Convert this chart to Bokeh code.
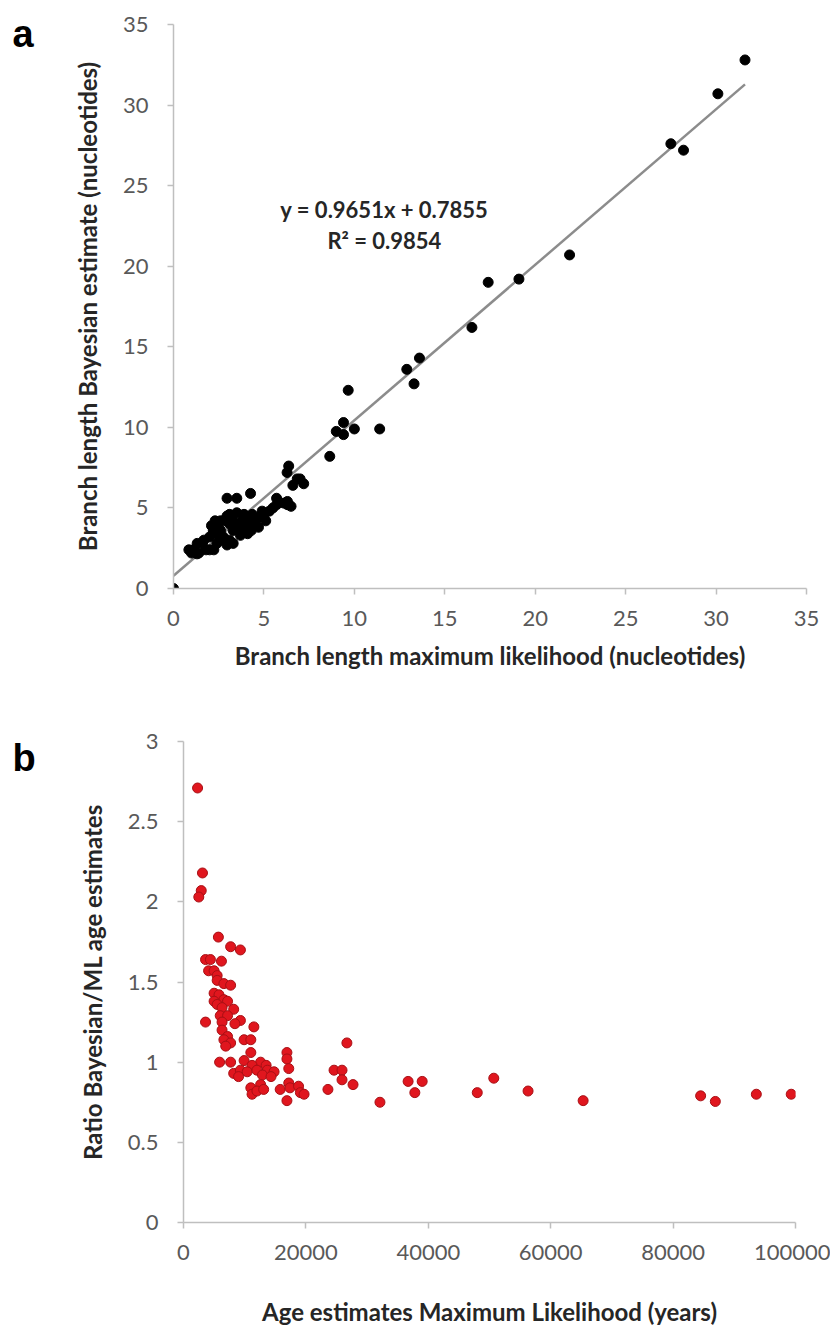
from bokeh.plotting import figure
from bokeh.layouts import column, row
from bokeh.models import Range1d, FixedTicker, Label, NumeralTickFormatter
from bokeh.embed import file_html
from bokeh.resources import INLINE

# ---------------- Panel a data ----------------
a_x = [0.0, 31.6, 30.1, 27.5, 28.2, 21.9, 19.1, 17.4, 16.5, 13.6, 12.9, 13.3,
       9.66, 9.4, 9.0, 9.4, 10.0, 11.4, 8.64, 7.2, 7.0, 6.37, 6.28, 6.84, 6.6,
       6.3, 5.7, 4.26, 3.5, 2.96,
       0.94, 0.85, 1.0, 1.3, 2.23, 1.31, 1.68, 2.0, 2.2, 2.4, 2.76, 2.96, 3.1,
       3.5, 3.9, 2.4, 2.76, 3.1, 3.3, 2.96, 2.6, 3.7, 4.1, 4.3, 4.7, 5.1, 4.9,
       5.3, 5.5, 5.7, 6.1, 6.3, 6.5, 4.5, 4.7, 4.3, 3.9, 3.5, 3.3, 3.7, 2.4,
       2.0, 1.8, 1.4, 1.1, 1.6, 2.6, 2.1, 2.3, 2.6, 3.1, 3.25, 3.8, 4.1, 4.35,
       5.0]
a_y = [0.0, 32.8, 30.7, 27.6, 27.2, 20.7, 19.2, 19.0, 16.2, 14.3, 13.6, 12.7,
       12.3, 10.3, 9.75, 9.55, 9.9, 9.9, 8.2, 6.5, 6.8, 7.6, 7.2, 6.8, 6.4,
       5.4, 5.6, 5.9, 5.6, 5.6,
       2.36, 2.4, 2.2, 2.15, 2.4, 2.8, 3.0, 3.2, 3.6, 3.9, 4.2, 4.5, 4.6,
       4.7, 4.6, 3.4, 3.2, 3.0, 2.8, 2.7, 3.0, 3.3, 3.4, 3.6, 3.8, 4.2, 4.8,
       4.8, 5.0, 5.2, 5.3, 5.2, 5.1, 4.2, 4.4, 4.0, 3.9, 4.0, 3.6, 3.7, 2.8,
       2.4, 2.4, 2.2, 2.4, 2.8, 3.6, 3.9, 4.2, 4.2, 4.0, 4.3, 4.2, 4.4, 4.6,
       4.6]
fit_slope = 0.9651
fit_intercept = 0.7855
fit_r2 = 0.9854
a_ticks = [0, 5, 10, 15, 20, 25, 30, 35]

# ---------------- Panel b data ----------------
b_x = [2300, 3100, 2900, 2500, 5700, 7700, 9300, 3600, 4400, 6200, 4100, 5000,
       5500, 5500, 6600, 7700, 5000, 5800, 6600, 5000, 7200, 5500, 6300, 8200,
       6000, 7200, 3600, 9300, 8400, 6300, 11500, 6300, 7200, 6600, 9900, 11000,
       7700, 6900, 26700, 11000, 16900, 5900, 7700, 9900, 12600, 16900, 11200,
       13500, 8200, 9300, 10400, 12000, 13700, 14800, 9000, 12900, 14300, 17200,
       24600, 25900, 12600, 11000, 15800, 17200, 17400, 18800, 19100, 16900,
       19700, 25900, 27700, 23600, 11200, 12000, 13100,
       32100, 36700, 39000, 37800, 48000, 50700, 56300, 65300, 84500, 86900,
       93600, 99300]
b_y = [2.71, 2.18, 2.07, 2.03, 1.78, 1.72, 1.70, 1.64, 1.64, 1.63, 1.57, 1.57,
       1.54, 1.51, 1.49, 1.48, 1.43, 1.42, 1.39, 1.38, 1.38, 1.36, 1.34, 1.33,
       1.29, 1.29, 1.25, 1.26, 1.24, 1.25, 1.22, 1.20, 1.16, 1.14, 1.14, 1.14,
       1.12, 1.10, 1.12, 1.06, 1.06, 1.00, 1.00, 1.01, 1.00, 1.02, 0.98,
       0.98, 0.93, 0.95, 0.94, 0.95, 0.95, 0.94, 0.91, 0.92, 0.91, 0.96,
       0.95, 0.95, 0.86, 0.84, 0.83, 0.87, 0.84, 0.85, 0.81, 0.76,
       0.80, 0.89, 0.86, 0.83, 0.80, 0.82, 0.83,
       0.75, 0.88, 0.88, 0.81, 0.81, 0.90, 0.82, 0.76, 0.79, 0.755,
       0.80, 0.80]
b_xticks = [0, 20000, 40000, 60000, 80000, 100000]
b_yticks = [0, 0.5, 1, 1.5, 2, 2.5, 3]

FONT = "Lato"
AXIS_GRAY = "#bfbfbf"
TICK_TEXT = "#595959"
LABEL_TEXT = "#262626"
LW = 60          # width of the strip holding the panel letter
HA = 690         # height of panel a row
HB = 646         # height of panel b row


def style_axes(p):
    for ax in (p.xaxis[0], p.yaxis[0]):
        ax.axis_line_color = AXIS_GRAY
        ax.axis_line_width = 1.5
        ax.major_tick_line_color = AXIS_GRAY
        ax.major_tick_line_width = 1.5
        ax.major_tick_in = 0
        ax.major_tick_out = 6
        ax.minor_tick_line_color = None
        ax.major_label_text_font = FONT
        ax.major_label_text_font_size = "22px"
        ax.major_label_text_color = TICK_TEXT
        ax.axis_label_text_font = FONT
        ax.axis_label_text_font_size = "24px"
        ax.axis_label_text_font_style = "bold"
        ax.axis_label_text_color = LABEL_TEXT
    p.xgrid.grid_line_color = None
    p.ygrid.grid_line_color = None
    p.outline_line_color = None


def letter_strip(letter, height, baseline_from_bottom):
    s = figure(width=LW, height=height, output_backend="svg",
               toolbar_location=None, x_range=Range1d(0, 1),
               y_range=Range1d(0, 1), min_border=0, frame_align=False)
    s.axis.visible = False
    s.xgrid.grid_line_color = None
    s.ygrid.grid_line_color = None
    s.outline_line_color = None
    s.add_layout(Label(x=12, y=baseline_from_bottom, x_units="screen",
                       y_units="screen", text=letter, text_align="left",
                       text_baseline="alphabetic", text_font="Liberation Sans",
                       text_font_style="bold", text_font_size="38px",
                       text_color="black"))
    return s


# ---------------- Figure a ----------------
pa = figure(width=770, height=HA, output_backend="svg", toolbar_location=None,
            x_range=Range1d(0, 35), y_range=Range1d(0, 35),
            min_border_left=173 - LW, min_border_right=24, min_border_top=24,
            min_border_bottom=HA - 588, frame_align=False)
style_axes(pa)
pa.xaxis.ticker = FixedTicker(ticks=a_ticks)
pa.yaxis.ticker = FixedTicker(ticks=a_ticks)
pa.xaxis.axis_label = "Branch length maximum likelihood (nucleotides)"
pa.yaxis.axis_label = "Branch length Bayesian estimate (nucleotides)"
pa.xaxis.major_label_standoff = 16
pa.xaxis.axis_label_standoff = 12
pa.yaxis.major_label_standoff = 19
pa.yaxis.axis_label_standoff = 18

fit_x = [min(a_x), max(a_x)]
fit_y = [fit_slope * v + fit_intercept for v in fit_x]
pa.line(fit_x, fit_y, line_color="#8c8c8c", line_width=2.5)
pa.scatter(a_x, a_y, size=10, fill_color="black", line_color="black")

pa.add_layout(Label(x=11.66, y=23.5, text=f"y = {fit_slope}x + {fit_intercept}",
                    text_align="center", text_baseline="middle",
                    text_font=FONT, text_font_style="bold",
                    text_font_size="22px", text_color=LABEL_TEXT))
pa.add_layout(Label(x=11.66, y=21.6, text=f"R² = {fit_r2}",
                    text_align="center", text_baseline="middle",
                    text_font=FONT, text_font_style="bold",
                    text_font_size="22px", text_color=LABEL_TEXT))

# ---------------- Figure b ----------------
pb = figure(width=770, height=HB, output_backend="svg", toolbar_location=None,
            x_range=Range1d(0, 100000), y_range=Range1d(0, 3),
            min_border_left=183 - LW, min_border_right=35,
            min_border_top=741 - HA, min_border_bottom=HB - (1222 - HA),
            frame_align=False)
style_axes(pb)
pb.xaxis.ticker = FixedTicker(ticks=b_xticks)
pb.yaxis.ticker = FixedTicker(ticks=b_yticks)
pb.xaxis.formatter = NumeralTickFormatter(format="0")
pb.xaxis.axis_label = "Age estimates Maximum Likelihood (years)"
pb.yaxis.axis_label = "Ratio Bayesian/ML age estimates"
pb.xaxis.major_label_standoff = 16
pb.xaxis.axis_label_standoff = 34
pb.yaxis.major_label_standoff = 19
pb.yaxis.axis_label_standoff = 18
pb.scatter(b_x, b_y, size=10, fill_color="#e0161e", line_color="#a81015",
           line_width=1)

strip_a = letter_strip("a", HA, HA - 33)
strip_b = letter_strip("b", HB, HB - (757 - HA))

layout = column(row(strip_a, pa, spacing=0), row(strip_b, pb, spacing=0),
                spacing=0)
open("out.html", "w").write(file_html(layout, INLINE))
